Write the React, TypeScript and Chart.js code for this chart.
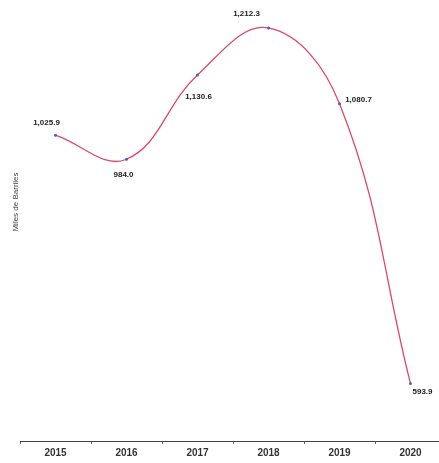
import React, { useEffect, useRef } from "react";
import { Chart, registerables } from "chart.js";

Chart.register(...registerables);

const years = ["2015", "2016", "2017", "2018", "2019", "2020"];
const barrels = [1025.9, 984.0, 1130.6, 1212.3, 1080.7, 593.9];
const yTitle = "Miles de Barriles";

// label placement relative to each point (dx, dy)
const labelOffsets: [number, number][] = [
  [-9, -12],
  [-3, 16],
  [1, 22],
  [-22, -14],
  [19, -4],
  [12, 8],
];

const fmt = (v: number) =>
  v.toLocaleString("en-US", { minimumFractionDigits: 1, maximumFractionDigits: 1 });

const labelPlugin = {
  id: "pointLabels",
  afterDatasetsDraw(chart: any) {
    const ctx = chart.ctx;
    const meta = chart.getDatasetMeta(0);
    ctx.save();
    ctx.font = "bold 8px 'Liberation Sans', Arial, sans-serif";
    ctx.fillStyle = "#222";
    ctx.textAlign = "center";
    ctx.textBaseline = "middle";
    meta.data.forEach((pt: any, i: number) => {
      const [dx, dy] = labelOffsets[i];
      ctx.fillText(fmt(barrels[i]), pt.x + dx, pt.y + dy);
    });
    // y axis title
    ctx.save();
    ctx.translate(16, 202);
    ctx.rotate(-Math.PI / 2);
    ctx.font = "8px 'Liberation Sans', Arial, sans-serif";
    ctx.fillStyle = "#444";
    ctx.fillText(yTitle, 0, 0);
    ctx.restore();
    ctx.restore();
  },
};

export default function App() {
  const ref = useRef<HTMLCanvasElement>(null);
  useEffect(() => {
    if (!ref.current) return;
    const chart = new Chart(ref.current, {
      type: "line",
      data: {
        labels: years,
        datasets: [
          {
            data: barrels,
            borderColor: "#e0456e",
            borderWidth: 1.3,
            tension: 0.4,
            pointRadius: 1.5,
            pointBackgroundColor: "#4a5ec8",
            pointBorderColor: "#4a5ec8",
            pointBorderWidth: 0,
            fill: false,
          },
        ],
      },
      options: {
        responsive: false,
        animation: false,
        maintainAspectRatio: false,
        layout: { padding: { left: 20, right: 3, top: 0, bottom: 1 } },
        plugins: {
          legend: { display: false },
          tooltip: { enabled: false },
        },
        scales: {
          x: {
            offset: true,
            grid: {
              display: true,
              offset: true,
              drawOnChartArea: false,
              drawTicks: true,
              tickLength: 3,
              color: "#666",
            },
            border: { display: true, color: "#444", width: 1 },
            ticks: {
              padding: 3,
              color: "#333",
              font: { family: "'Liberation Sans', Arial, sans-serif", size: 10, weight: "bold" },
            },
          },
          y: {
            display: false,
            min: 494,
            max: 1254,
          },
        },
      },
      plugins: [labelPlugin],
    });
    return () => chart.destroy();
  }, []);

  return (
    <div
      style={{
        position: "fixed",
        left: 0,
        top: 0,
        width: 439,
        height: 463,
        overflow: "hidden",
        background: "#fff",
      }}
    >
      <canvas ref={ref} width={450} height={463} style={{ display: "block", width: 450, height: 463 }} />
    </div>
  );
}
